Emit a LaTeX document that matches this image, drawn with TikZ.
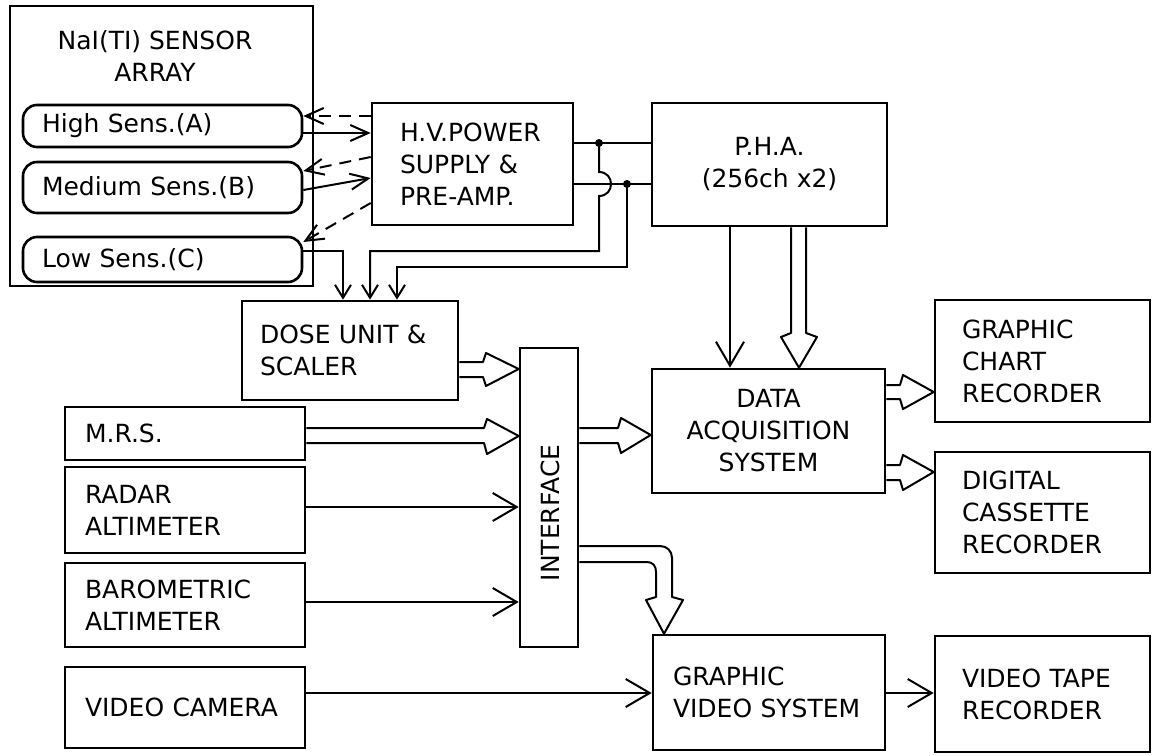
\documentclass[tikz,border=0pt]{standalone}
\usepackage{fontspec}
\setmainfont{DejaVu Sans}
\usetikzlibrary{arrows.meta}
\newcommand\dfont{\fontsize{12.5}{16}\selectfont}
\begin{document}
\begin{tikzpicture}[x=0.5pt,y=-0.5pt,
  box/.style={draw, line width=1.3pt, inner sep=0pt, align=left, font=\dfont},
  cbox/.style={box, align=center},
  caps/.style={box, rounded corners=7pt},
  sl/.style={line width=1pt},
  dl/.style={line width=1pt, dash pattern=on 6pt off 4pt},
  hl/.style={line width=1pt, line join=round},
  smalltip/.style={-{Straight Barb[length=9pt,width=8pt]}},
  tinytip/.style={-{Straight Barb[length=6.5pt,width=8pt]}},
  >={Straight Barb[length=12pt,width=14pt]}]
\useasboundingbox (0,0) rectangle (1160,755);
\fill[white] (0,0) rectangle (1160,755);

% sensor array
\node[box, minimum width=151.5pt, minimum height=140pt] (sensor) at (161.5,146) {};
\node[font=\dfont, align=center, inner sep=0pt] (title) at (155,56) {NaI(TI) SENSOR\\ARRAY};
\node[caps, minimum width=139.5pt, minimum height=21pt, text width=120.5pt] (high) at (162.5,126) {High Sens.(A)};
\node[caps, minimum width=139.5pt, minimum height=25.5pt, text width=120.5pt] (medium) at (162.5,187.5) {Medium Sens.(B)};
\node[caps, minimum width=139.5pt, minimum height=22.5pt, text width=120.5pt] (low) at (162.5,259.5) {Low Sens.(C)};

% blocks
\node[box, minimum width=100.5pt, minimum height=61pt, text width=72.5pt] (hv) at (472.5,164) {H.V.POWER\\SUPPLY \&\\PRE-AMP.};
\node[cbox, minimum width=117.5pt, minimum height=61.5pt] (pha) at (769.5,164.5) {P.H.A.\\(256ch x2)};
\node[box, minimum width=108pt, minimum height=49.5pt, text width=90pt] (dose) at (350,350.5) {DOSE UNIT \&\\SCALER};
\node[box, minimum width=29pt, minimum height=149.5pt] (interface) at (549,497.5) {};
\node[font=\dfont, rotate=90, inner sep=0pt] (iflabel) at (550,513) {INTERFACE};
\node[box, minimum width=120pt, minimum height=26.5pt, text width=100pt] (mrs) at (185,433.5) {M.R.S.};
\node[box, minimum width=120pt, minimum height=43pt, text width=100pt] (radar) at (185,510) {RADAR\\ALTIMETER};
\node[box, minimum width=120pt, minimum height=42pt, text width=100pt] (baro) at (185,605) {BAROMETRIC\\ALTIMETER};
\node[box, minimum width=120pt, minimum height=40.5pt, text width=100pt] (vc) at (185,707.5) {VIDEO CAMERA};
\node[cbox, minimum width=116.5pt, minimum height=62pt] (das) at (768.5,431) {DATA\\ACQUISITION\\SYSTEM};
\node[box, minimum width=107.5pt, minimum height=61pt, text width=80.5pt] (chart) at (1042.5,361) {GRAPHIC\\CHART\\RECORDER};
\node[box, minimum width=107.5pt, minimum height=60.5pt, text width=80.5pt] (cassette) at (1042.5,512.5) {DIGITAL\\CASSETTE\\RECORDER};
\node[box, minimum width=116pt, minimum height=57.5pt, text width=96pt] (gvs) at (769,692.5) {GRAPHIC\\VIDEO SYSTEM};
\node[box, minimum width=107.5pt, minimum height=58pt, text width=80.5pt] (vtr) at (1042.5,694) {VIDEO TAPE\\RECORDER};

% sensors <-> HV
\draw[dl,smalltip] (hv.west |- 0,116) -- (high.east |- 0,116);
\draw[sl,smalltip] (high.east |- 0,133) -- (hv.west |- 0,133);
\draw[dl,smalltip] (hv.west |- 0,157) -- (medium.east |- 0,171);
\draw[sl,smalltip] (medium.east |- 0,190) -- (hv.west |- 0,178);
\draw[dl,smalltip] (hv.west |- 0,203) -- (low.east |- 0,242);
\draw[sl,tinytip] (low.east |- 0,251) -| (343,0 |- dose.north);

% HV -> PHA with junctions
\coordinate (j1) at (599,143);
\coordinate (j2) at (627,184);
\draw[sl] (hv.east |- j1) -- (pha.west |- j1);
\draw[sl] (hv.east |- j2) -- (pha.west |- j2);
\fill (j1) circle[radius=2pt];
\fill (j2) circle[radius=2pt];
\draw[sl,tinytip] (j1) -- (599,172) .. controls (615,172) and (615,196) .. (599,196) -- (599,251) -| (370,0 |- dose.north);
\draw[sl,tinytip] (j2) -- (627,267) -| (397,0 |- dose.north);

% PHA -> DAS
\draw[sl,->] (pha.south -| 730,0) -- (das.north -| 730,0);
\draw[hl] (pha.south -| 791,0) -- (791,333) -- (781,337) -- (das.north -| 799,0) -- (817,337) -- (806,333) -- (pha.south -| 806,0);

% hollow arrows into interface
\draw[hl] (dose.east |- 0,362) -- (483,362) -- (486,353) -- (interface.west |- 0,369) -- (486,386) -- (483,377) -- (dose.east |- 0,377);
\draw[hl] (mrs.east |- 0,428) -- (484,428) -- (487,419) -- (interface.west |- 0,436) -- (487,454) -- (484,443) -- (mrs.east |- 0,443);
\draw[sl,->] (radar.east |- 0,507) -- (interface.west |- 0,507);
\draw[sl,->] (baro.east |- 0,602) -- (interface.west |- 0,602);

% interface -> DAS
\draw[hl] (interface.east |- 0,428) -- (618,428) -- (621,418) -- (das.west |- 0,435) -- (621,453) -- (618,443) -- (interface.east |- 0,443);

% DAS -> recorders
\draw[hl] (das.east |- 0,385) -- (900,385) -- (903,375) -- (chart.west |- 0,392) -- (903,409) -- (900,399) -- (das.east |- 0,399);
\draw[hl] (das.east |- 0,465) -- (900,465) -- (903,455) -- (cassette.west |- 0,472) -- (903,490) -- (900,480) -- (das.east |- 0,480);

% interface -> GVS (bent hollow arrow)
\draw[hl] (interface.east |- 0,546) -- (660,546) .. controls (667,546) and (672,551) .. (672,558) -- (672,597) -- (683,600) -- (gvs.north -| 664,0) -- (646,600) -- (656,597) -- (656,572) .. controls (656,566) and (653,562) .. (647,562) -- (interface.east |- 0,562);

% video
\draw[sl,->] (vc.east |- 0,693) -- (gvs.west |- 0,693);
\draw[sl,->] (gvs.east |- 0,693) -- (vtr.west |- 0,693);
\end{tikzpicture}
\end{document}
